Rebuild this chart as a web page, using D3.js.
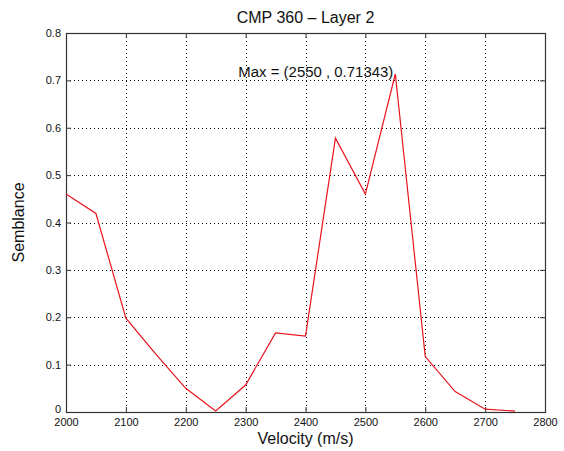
<!DOCTYPE html>
<html>
<head>
<meta charset="utf-8">
<script src="https://cdn.jsdelivr.net/npm/d3@7"></script>
<style>
  body { margin: 0; background: #fff; }
  text { font-family: "Liberation Sans", Arial, sans-serif; }
</style>
</head>
<body>
<div id="chart"></div>
<script>
const velocity = [2000, 2050, 2100, 2150, 2200, 2250, 2300, 2350, 2400, 2450, 2500, 2550, 2600, 2650, 2700, 2750];
const semblance = [0.46, 0.419, 0.198, 0.122, 0.05, 0.002, 0.057, 0.167, 0.16, 0.578, 0.46, 0.71343, 0.117, 0.043, 0.006, 0.002];
const xTicks = [2000, 2100, 2200, 2300, 2400, 2500, 2600, 2700, 2800];
const yTicks = [0, 0.1, 0.2, 0.3, 0.4, 0.5, 0.6, 0.7, 0.8];
const maxPoint = [2550, 0.71343];

const width = 564, height = 451,
  margin = ({ top: 33, right: 19, bottom: 39, left: 66 });

let svg = d3.select("#chart")
  .append("svg")
  .attr("width", width)
  .attr("height", height)
  .attr("viewBox", [0, 0, width, height]);

let x = d3.scaleLinear()
  .domain([2000, 2800])
  .range([margin.left, width - margin.right]);

let y = d3.scaleLinear()
  .domain([0, 0.8])
  .range([height - margin.bottom, margin.top]);

// dotted grid
svg.append("g")
  .selectAll("line")
  .data(xTicks.slice(1, -1))
  .join("line")
  .attr("x1", d => Math.round(x(d)) + 0.5).attr("x2", d => Math.round(x(d)) + 0.5)
  .attr("y1", y(0.8)).attr("y2", y(0))
  .attr("stroke", "#000")
  .attr("stroke-dasharray", "1,3");

svg.append("g")
  .selectAll("line")
  .data(yTicks.slice(1, -1))
  .join("line")
  .attr("y1", d => Math.round(y(d)) + 0.5).attr("y2", d => Math.round(y(d)) + 0.5)
  .attr("x1", x(2000)).attr("x2", x(2800))
  .attr("stroke", "#000")
  .attr("stroke-dasharray", "1,3");

// axes, ticks inside on all four sides
const tickLen = 5;
const axisFmt = (g) => g.call(g => g.select(".domain").remove())
  .call(g => g.selectAll(".tick line").attr("stroke", "#333"))
  .call(g => g.selectAll(".tick text")
    .attr("fill", "#111")
    .style("font-size", "11px")
    .style("font-family", "'Liberation Sans', Arial, sans-serif"));

svg.append("g")
  .attr("transform", `translate(0,${y(0)})`)
  .call(d3.axisBottom(x).tickValues(xTicks).tickFormat(d3.format("d"))
    .tickSizeInner(-tickLen).tickSizeOuter(0).tickPadding(6))
  .call(axisFmt);

svg.append("g")
  .attr("transform", `translate(0,${y(0.8)})`)
  .call(d3.axisTop(x).tickValues(xTicks).tickFormat("")
    .tickSizeInner(-tickLen).tickSizeOuter(0))
  .call(axisFmt);

svg.append("g")
  .attr("transform", `translate(${x(2000)},0)`)
  .call(d3.axisLeft(y).tickValues(yTicks).tickFormat(d => d === 0 ? "0" : d3.format(".1f")(d))
    .tickSizeInner(-tickLen).tickSizeOuter(0).tickPadding(5))
  .call(axisFmt)
  // the "0" label sits just above the "2000" label, as in the original
  .call(g => g.selectAll(".tick text").filter(d => d === 0).attr("dy", "0.05em"));

svg.append("g")
  .attr("transform", `translate(${x(2800)},0)`)
  .call(d3.axisRight(y).tickValues(yTicks).tickFormat("")
    .tickSizeInner(-tickLen).tickSizeOuter(0))
  .call(axisFmt);

// frame
svg.append("rect")
  .attr("x", x(2000) + 0.5)
  .attr("y", y(0.8) + 0.5)
  .attr("width", x(2800) - x(2000))
  .attr("height", y(0) - y(0.8))
  .attr("fill", "none")
  .attr("stroke", "#333")
  .attr("stroke-width", 1.2);

// semblance curve
svg.append("path")
  .datum(velocity.map((v, i) => [v, semblance[i]]))
  .attr("fill", "none")
  .attr("stroke", "#e8141c")
  .attr("stroke-width", 1.2)
  .attr("d", d3.line().x(d => x(d[0])).y(d => y(d[1])));

// annotation
svg.append("text")
  .attr("x", x(maxPoint[0]) - 2)
  .attr("y", y(maxPoint[1]) + 3)
  .attr("text-anchor", "end")
  .attr("textLength", 155)
  .attr("lengthAdjust", "spacingAndGlyphs")
  .style("font-size", "14px")
  .attr("fill", "#111")
  .text(`Max = (${maxPoint[0]} , ${maxPoint[1]})`);

// titles
svg.append("text")
  .attr("x", (x(2000) + x(2800)) / 2)
  .attr("y", 23)
  .attr("text-anchor", "middle")
  .style("font-size", "16px")
  .attr("fill", "#111")
  .text("CMP 360 – Layer 2");

svg.append("text")
  .attr("x", (x(2000) + x(2800)) / 2)
  .attr("y", 444)
  .attr("text-anchor", "middle")
  .style("font-size", "16px")
  .attr("fill", "#111")
  .text("Velocity (m/s)");

svg.append("text")
  .attr("transform", `translate(24,${(y(0) + y(0.8)) / 2}) rotate(-90)`)
  .attr("text-anchor", "middle")
  .style("font-size", "16px")
  .attr("fill", "#111")
  .text("Semblance");
</script>
</body>
</html>
